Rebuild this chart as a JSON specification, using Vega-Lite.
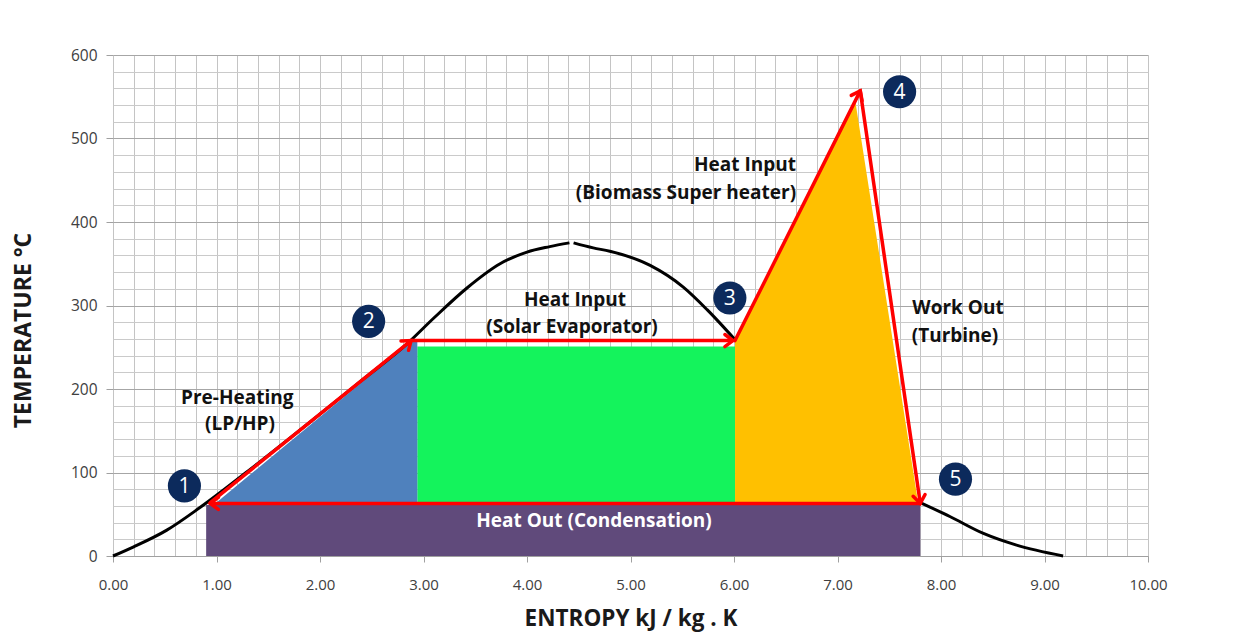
{
  "$schema": "https://vega.github.io/schema/vega-lite/v6.json",
  "width": 1035,
  "height": 501,
  "autosize": {"type": "none"},
  "padding": {"left": 113, "top": 55, "right": 93, "bottom": 83},
  "background": "white",
  "config": {"view": {"stroke": null}, "font": "Open Sans"},
  "datasets": {
    "purple": [{"s": 0.9, "s2": 7.8, "t": 0, "t2": 61}],
    "green": [{"s": 2.94, "s2": 6.01, "t": 63, "t2": 251}],
    "areas": [
      {"r": "blue", "s": 1.0, "t": 64, "t2": 63},
      {"r": "blue", "s": 2.9, "t": 259, "t2": 63},
      {"r": "blue", "s": 2.94, "t": 257, "t2": 63},
      {"r": "orange", "s": 6.01, "t": 257, "t2": 63},
      {"r": "orange", "s": 7.17, "t": 546, "t2": 63},
      {"r": "orange", "s": 7.78, "t": 63, "t2": 63}
    ],
    "curve": [
      {"b": "left", "s": 0, "t": 0},
      {"b": "left", "s": 0.2, "t": 11},
      {"b": "left", "s": 0.52, "t": 31},
      {"b": "left", "s": 0.84, "t": 58},
      {"b": "left", "s": 1.4, "t": 111},
      {"b": "left", "s": 1.9, "t": 160},
      {"b": "left", "s": 2.4, "t": 210},
      {"b": "left", "s": 2.84, "t": 254},
      {"b": "left", "s": 3.1, "t": 285},
      {"b": "left", "s": 3.42, "t": 321},
      {"b": "left", "s": 3.74, "t": 350},
      {"b": "left", "s": 4.0, "t": 364},
      {"b": "left", "s": 4.22, "t": 370.5},
      {"b": "left", "s": 4.41, "t": 375},
      {"b": "right", "s": 4.45, "t": 375},
      {"b": "right", "s": 4.64, "t": 369},
      {"b": "right", "s": 4.8, "t": 365},
      {"b": "right", "s": 5.19, "t": 348},
      {"b": "right", "s": 5.51, "t": 322},
      {"b": "right", "s": 5.74, "t": 295},
      {"b": "right", "s": 6.01, "t": 259},
      {"b": "tail", "s": 7.8, "t": 64},
      {"b": "tail", "s": 8.09, "t": 47},
      {"b": "tail", "s": 8.41, "t": 27},
      {"b": "tail", "s": 8.73, "t": 13},
      {"b": "tail", "s": 9.18, "t": 0}
    ],
    "segments": [
      {"s": 0.94, "t": 64, "s2": 2.88, "t2": 258},
      {"s": 2.88, "t": 258, "s2": 5.99, "t2": 258},
      {"s": 6.01, "t": 258, "s2": 7.22, "t2": 557},
      {"s": 7.22, "t": 557, "s2": 7.8, "t2": 63},
      {"s": 7.8, "t": 63, "s2": 0.94, "t2": 63}
    ],
    "heads": [
      {"s": 2.88, "t": 258, "heading": -38.9},
      {"s": 5.99, "t": 258, "heading": 0},
      {"s": 7.22, "t": 557, "heading": -63.5},
      {"s": 7.8, "t": 63, "heading": 81.4},
      {"s": 0.94, "t": 63, "heading": 180}
    ],
    "markers": [
      {"n": "1", "s": 0.69, "t": 84},
      {"n": "2", "s": 2.47, "t": 281},
      {"n": "3", "s": 5.96, "t": 309},
      {"n": "4", "s": 7.6, "t": 556},
      {"n": "5", "s": 8.14, "t": 92}
    ],
    "labels": [
      {"txt": "Pre-Heating", "s": 1.2, "t": 189},
      {"txt": "(LP/HP)", "s": 1.227, "t": 158},
      {"txt": "Heat Input", "s": 4.464, "t": 306.6},
      {"txt": "(Solar Evaporator)", "s": 4.435, "t": 274.3},
      {"txt": "Heat Input", "s": 6.106, "t": 468.3},
      {"txt": "(Biomass Super heater)", "s": 5.536, "t": 434.7},
      {"txt": "Work Out", "s": 8.164, "t": 297},
      {"txt": "(Turbine)", "s": 8.135, "t": 263.5}
    ],
    "whitelabels": [
      {"txt": "Heat Out (Condensation)", "s": 4.647, "t": 41.9}
    ]
  },
  "layer": [
    {
      "data": {"name": "purple"},
      "mark": {"type": "rect", "color": "#604A7B"},
      "encoding": {
        "x": {
          "field": "s", "type": "quantitative",
          "scale": {"domain": [0, 10], "nice": false, "zero": false},
          "axis": {
            "title": "ENTROPY kJ / kg . K",
            "values": [0,0.2,0.4,0.6,0.8,1,1.2,1.4,1.6,1.8,2,2.2,2.4,2.6,2.8,3,3.2,3.4,3.6,3.8,4,4.2,4.4,4.6,4.8,5,5.2,5.4,5.6,5.8,6,6.2,6.4,6.6,6.8,7,7.2,7.4,7.6,7.8,8,8.2,8.4,8.6,8.8,9,9.2,9.4,9.6,9.8,10],
            "tickCount": 200,
            "grid": true,
            "gridColor": "#C4C4C4",
            "gridWidth": 1,
            "labelExpr": "datum.value % 1 == 0 ? format(datum.value, '.2f') : ''",
            "labelOverlap": false,
            "labelFlush": false,
            "labelFontSize": 15,
            "labelColor": "#404040",
            "labelPadding": 15,
            "tickOpacity": {"condition": {"test": "datum.value % 1 == 0", "value": 1}, "value": 0},
            "tickColor": "#A0A0A0",
            "tickSize": 6,
            "domainColor": "#A0A0A0",
            "titleFontSize": 22.5,
            "titleFontWeight": "bold",
            "titleColor": "#1A1A1A",
            "titlePadding": 15
          }
        },
        "x2": {"field": "s2"},
        "y": {
          "field": "t", "type": "quantitative",
          "scale": {"domain": [0, 600], "nice": false},
          "axis": {
            "title": "TEMPERATURE °C",
            "values": [0,20,40,60,80,100,120,140,160,180,200,220,240,260,280,300,320,340,360,380,400,420,440,460,480,500,520,540,560,580,600],
            "tickCount": 200,
            "grid": true,
            "gridColor": {"condition": {"test": "datum.value % 100 == 0", "value": "#A6A6A6"}, "value": "#CACACA"},
            "gridWidth": 1,
            "labelExpr": "datum.value % 100 == 0 ? format(datum.value, 'd') : ''",
            "labelOverlap": false,
            "labelFlush": false,
            "labelFontSize": 15.5,
            "labelColor": "#404040",
            "labelPadding": 9,
            "tickOpacity": {"condition": {"test": "datum.value % 100 == 0", "value": 1}, "value": 0},
            "tickColor": "#A0A0A0",
            "tickSize": 7,
            "domain": false,
            "titleFontSize": 23,
            "titleFontWeight": "bold",
            "titleColor": "#1A1A1A",
            "titleX": -78,
            "titleY": 275
          }
        },
        "y2": {"field": "t2"}
      }
    },
    {
      "data": {"name": "green"},
      "mark": {"type": "rect", "color": "#14F35C"},
      "encoding": {
        "x": {"field": "s", "type": "quantitative"},
        "x2": {"field": "s2"},
        "y": {"field": "t", "type": "quantitative"},
        "y2": {"field": "t2"}
      }
    },
    {
      "data": {"name": "areas"},
      "mark": {"type": "area", "opacity": 1, "interpolate": "linear"},
      "encoding": {
        "x": {"field": "s", "type": "quantitative"},
        "y": {"field": "t", "type": "quantitative", "stack": null},
        "y2": {"field": "t2"},
        "color": {"field": "r", "type": "nominal", "scale": {"domain": ["blue", "orange"], "range": ["#4F81BD", "#FFC000"]}, "legend": null}
      }
    },
    {
      "data": {"name": "curve"},
      "mark": {"type": "line", "color": "#000000", "strokeWidth": 3, "interpolate": "monotone"},
      "encoding": {
        "x": {"field": "s", "type": "quantitative"},
        "y": {"field": "t", "type": "quantitative"},
        "detail": {"field": "b", "type": "nominal"}
      }
    },
    {
      "data": {"name": "segments"},
      "mark": {"type": "rule", "color": "#FF0000", "strokeWidth": 3.5, "strokeCap": "round"},
      "encoding": {
        "x": {"field": "s", "type": "quantitative"},
        "y": {"field": "t", "type": "quantitative"},
        "x2": {"field": "s2"},
        "y2": {"field": "t2"}
      }
    },
    {
      "data": {"name": "heads"},
      "mark": {"type": "point", "shape": "M-1,-0.75L0,0L-1,0.75", "filled": false, "stroke": "#FF0000", "strokeWidth": 3.5, "strokeJoin": "miter", "strokeCap": "round", "size": 260, "opacity": 1},
      "encoding": {
        "x": {"field": "s", "type": "quantitative"},
        "y": {"field": "t", "type": "quantitative"},
        "angle": {"field": "heading", "type": "quantitative", "scale": null}
      }
    },
    {
      "data": {"name": "markers"},
      "mark": {"type": "point", "shape": "circle", "filled": true, "color": "#0C2A5C", "size": 1100, "opacity": 1},
      "encoding": {
        "x": {"field": "s", "type": "quantitative"},
        "y": {"field": "t", "type": "quantitative"}
      }
    },
    {
      "data": {"name": "markers"},
      "mark": {"type": "text", "color": "white", "fontSize": 21, "font": "Open Sans", "align": "center", "baseline": "middle", "dy": 1},
      "encoding": {
        "x": {"field": "s", "type": "quantitative"},
        "y": {"field": "t", "type": "quantitative"},
        "text": {"field": "n"}
      }
    },
    {
      "data": {"name": "labels"},
      "mark": {"type": "text", "color": "#111111", "fontSize": 19, "fontWeight": "bold", "font": "Open Sans", "align": "center", "baseline": "middle"},
      "encoding": {
        "x": {"field": "s", "type": "quantitative"},
        "y": {"field": "t", "type": "quantitative"},
        "text": {"field": "txt"}
      }
    },
    {
      "data": {"name": "whitelabels"},
      "mark": {"type": "text", "color": "#FFFFFF", "fontSize": 19, "fontWeight": "bold", "font": "Open Sans", "align": "center", "baseline": "middle"},
      "encoding": {
        "x": {"field": "s", "type": "quantitative"},
        "y": {"field": "t", "type": "quantitative"},
        "text": {"field": "txt"}
      }
    }
  ]
}
